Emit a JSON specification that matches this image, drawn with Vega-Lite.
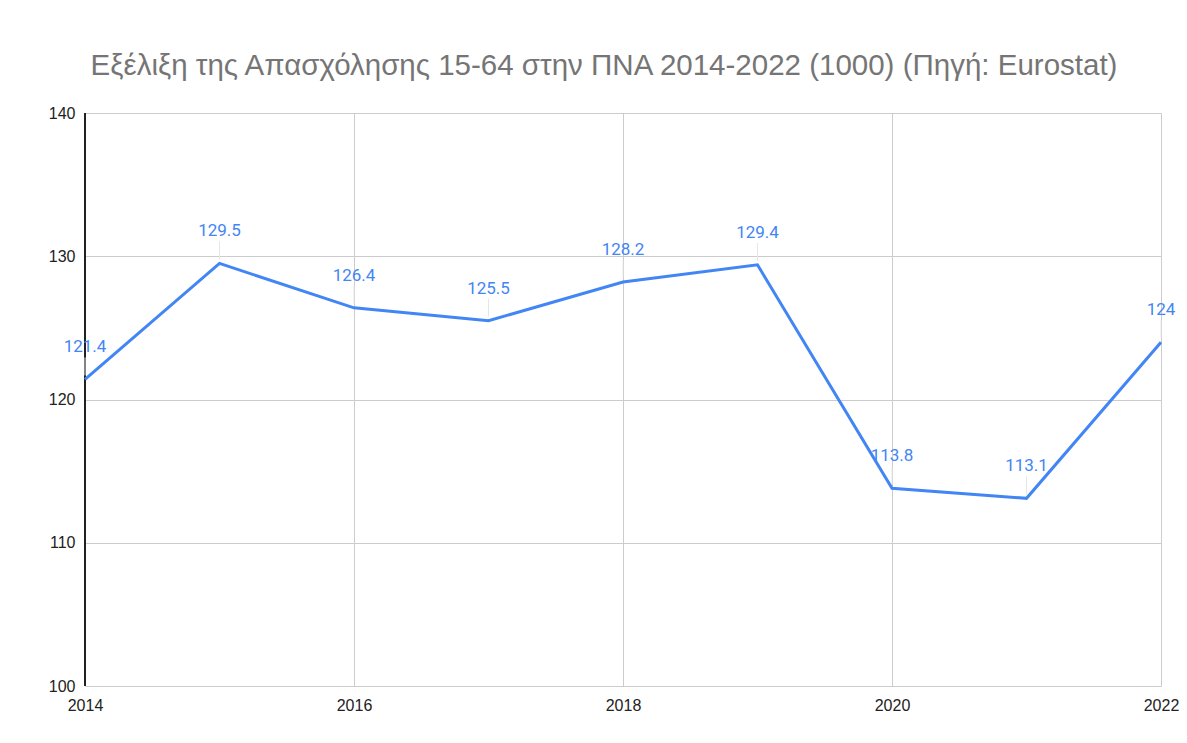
{
  "$schema": "https://vega.github.io/schema/vega-lite/v6.json",
  "autosize": {"type": "none"},
  "width": 1076,
  "height": 573,
  "padding": {"left": 85, "top": 113, "right": 26, "bottom": 57},
  "background": "white",
  "title": {
    "text": "Εξέλιξη της Απασχόλησης 15-64 στην ΠΝΑ 2014-2022 (1000) (Πηγή: Eurostat)",
    "font": "Liberation Sans",
    "fontSize": 29.5,
    "fontWeight": "normal",
    "color": "#757575",
    "anchor": "middle",
    "dx": -19,
    "offset": 24
  },
  "data": {
    "values": [
      {"year": 2014, "value": 121.4, "label": "121.4"},
      {"year": 2015, "value": 129.5, "label": "129.5"},
      {"year": 2016, "value": 126.4, "label": "126.4"},
      {"year": 2017, "value": 125.5, "label": "125.5"},
      {"year": 2018, "value": 128.2, "label": "128.2"},
      {"year": 2019, "value": 129.4, "label": "129.4"},
      {"year": 2020, "value": 113.8, "label": "113.8"},
      {"year": 2021, "value": 113.1, "label": "113.1"},
      {"year": 2022, "value": 124, "label": "124"}
    ]
  },
  "encoding": {
    "x": {
      "field": "year",
      "type": "quantitative",
      "scale": {"domain": [2014, 2022], "nice": false, "zero": false},
      "axis": {
        "title": null,
        "values": [2014, 2016, 2018, 2020, 2022],
        "format": "d",
        "ticks": false,
        "domain": false,
        "grid": true,
        "gridColor": "#cccccc",
        "gridWidth": 1,
        "labelFont": "Liberation Sans",
        "labelFontSize": 16,
        "labelColor": "#222222",
        "labelPadding": 11,
        "labelFlush": false,
        "labelOverlap": false
      }
    },
    "y": {
      "field": "value",
      "type": "quantitative",
      "scale": {"domain": [100, 140], "nice": false, "zero": false},
      "axis": {
        "title": null,
        "values": [100, 110, 120, 130, 140],
        "ticks": false,
        "domain": false,
        "grid": true,
        "gridColor": "#cccccc",
        "gridWidth": 1,
        "labelFont": "Liberation Sans",
        "labelFontSize": 16,
        "labelColor": "#222222",
        "labelPadding": 10,
        "labelFlush": false,
        "labelOverlap": false
      }
    }
  },
  "layer": [
    {
      "mark": {"type": "rule", "color": "#222222", "strokeWidth": 1.5},
      "encoding": {
        "x": {"datum": 2014},
        "y": {"datum": 100},
        "y2": {"datum": 140}
      }
    },
    {
      "mark": {"type": "rule", "color": "#e6e6e6", "strokeWidth": 1, "yOffset": -22, "y2Offset": -4},
      "encoding": {
        "y2": {"field": "value"}
      }
    },
    {
      "mark": {"type": "line", "color": "#4285F4", "strokeWidth": 3, "clip": false},
      "encoding": {}
    },
    {
      "mark": {"type": "text", "color": "#4285F4", "font": "Roboto", "fontSize": 17, "dy": -32, "baseline": "middle", "align": "center"},
      "encoding": {
        "text": {"field": "label"}
      }
    }
  ],
  "config": {
    "view": {"stroke": null}
  }
}
